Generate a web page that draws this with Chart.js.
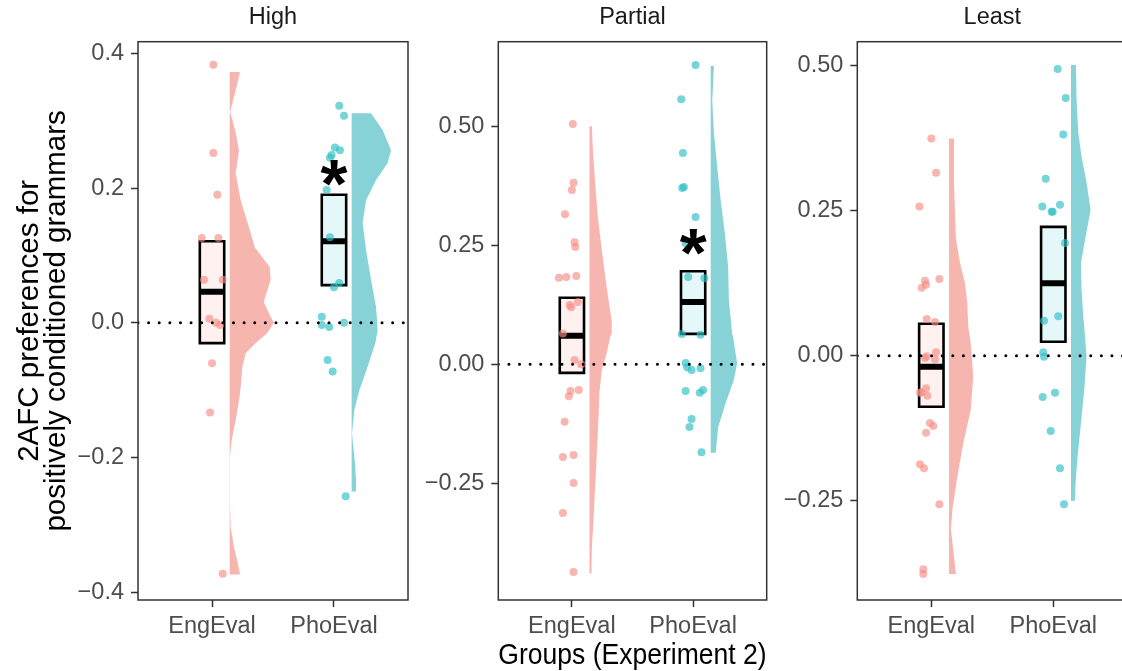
<!DOCTYPE html>
<html>
<head>
<meta charset="utf-8">
<script src="https://cdn.jsdelivr.net/npm/chart.js@4.4.1/dist/chart.umd.min.js"></script>
<style>
  html, body { margin: 0; padding: 0; background: #ffffff; overflow: hidden; }
  #wrap { position: relative; width: 1122px; height: 671px; overflow: hidden; background: #fff; }
  canvas { position: absolute; top: 0; }
</style>
</head>
<body>
<div id="wrap">
  <canvas id="c1" width="420" height="671" style="left:0px"></canvas>
  <canvas id="c2" width="360" height="671" style="left:420px"></canvas>
  <canvas id="c3" width="360" height="671" style="left:780px"></canvas>
</div>
<script>
// ---------------- DATA ----------------
const groups = ['EngEval', 'PhoEval'];
const panelTitles = ['High', 'Partial', 'Least'];
const xAxisTitle = 'Groups (Experiment 2)';
const yAxisTitle = ['2AFC preferences for', 'positively conditioned grammars'];

// y-axis ranges and ticks
const highYRange = [-0.411, 0.417];
const highYTicks = [-0.4, -0.2, 0, 0.2, 0.4];
const highYTickLabels = ['\u22120.4', '\u22120.2', '0.0', '0.2', '0.4'];
const partialYRange = [-0.496, 0.679];
const partialYTicks = [-0.25, 0, 0.25, 0.5];
const partialYTickLabels = ['\u22120.25', '0.00', '0.25', '0.50'];
const leastYRange = [-0.421, 0.541];
const leastYTicks = [-0.25, 0, 0.25, 0.5];
const leastYTickLabels = ['\u22120.25', '0.00', '0.25', '0.50'];

// High panel: individual participants (value, horizontal jitter)
const highEngVals = [0.383, 0.252, 0.19, 0.126, 0.126, 0.064, 0.064, 0.006, 0.0, -0.003, -0.06, -0.133, -0.372];
const highEngJitter = [0.011, 0.011, 0.043, -0.084, 0.052, -0.066, 0.088, -0.022, 0.033, 0.066, 0.0, -0.016, 0.088];
const highPhoVals = [0.322, 0.307, 0.26, 0.256, 0.249, 0.245, 0.197, 0.127, 0.059, 0.053, 0.009, -0.003, -0.006, 0.0, -0.055, -0.072, -0.257];
const highPhoJitter = [0.043, 0.082, 0.008, 0.049, -0.019, -0.033, -0.06, -0.033, 0.043, 0.0, -0.10, -0.10, -0.039, 0.082, -0.052, -0.011, 0.096];
// boxes: [lower hinge, median, upper hinge]
const highEngBox = [-0.03, 0.046, 0.121];
const highPhoBox = [0.056, 0.121, 0.19];
// half-violin density outline: [value, width]
const highEngViolin = [[0.372,0.084],[0.345,0.049],[0.313,0.004],[0.282,0.049],[0.256,0.076],[0.222,0.049],[0.182,0.09],[0.142,0.158],[0.112,0.205],[0.083,0.328],[0.064,0.336],[0.045,0.303],[0.031,0.279],[0.015,0.32],[0.0,0.361],[-0.015,0.309],[-0.03,0.213],[-0.045,0.131],[-0.065,0.104],[-0.095,0.09],[-0.115,0.076],[-0.144,0.049],[-0.174,0.016],[-0.199,0.002],[-0.263,0.002],[-0.303,0.008],[-0.333,0.035],[-0.357,0.068],[-0.373,0.084]];
const highPhoViolin = [[0.311,0.159],[0.286,0.254],[0.256,0.323],[0.237,0.295],[0.212,0.2],[0.182,0.118],[0.148,0.09],[0.108,0.118],[0.064,0.159],[0.024,0.2],[-0.011,0.213],[-0.03,0.194],[-0.065,0.131],[-0.1,0.063],[-0.129,0.022],[-0.164,0.003],[-0.204,0.025],[-0.233,0.036],[-0.25,0.036]];

// Partial panel
const partialEngVals = [0.506, 0.382, 0.367, 0.316, 0.257, 0.247, 0.182, 0.184, 0.186, 0.125, 0.12, 0.131, 0.065, 0.009, 0.0, -0.056, -0.067, -0.054, -0.121, -0.195, -0.191, -0.25, -0.313, -0.437];
const partialEngJitter = [0.008, 0.014, 0.0, -0.057, 0.022, 0.028, -0.107, -0.046, 0.036, -0.019, -0.005, 0.049, -0.074, 0.022, 0.077, -0.011, -0.025, 0.057, -0.06, -0.074, 0.014, 0.014, -0.074, 0.014];
const partialPhoVals = [0.63, 0.558, 0.445, 0.373, 0.371, 0.31, 0.255, 0.184, 0.181, 0.062, 0.064, 0.003, -0.006, -0.012, -0.008, -0.056, -0.06, -0.054, -0.115, -0.132, -0.185];
const partialPhoJitter = [0.02, -0.098, -0.084, -0.076, -0.09, 0.02, -0.062, -0.041, 0.093, 0.061, -0.093, -0.062, -0.049, -0.013, 0.061, -0.062, 0.055, 0.082, -0.013, -0.03, 0.069];
const partialEngBox = [-0.018, 0.06, 0.14];
const partialPhoBox = [0.064, 0.131, 0.196];
const partialEngViolin = [[0.501,0.02],[0.451,0.028],[0.382,0.047],[0.31,0.069],[0.24,0.102],[0.171,0.137],[0.114,0.17],[0.093,0.184],[0.066,0.184],[0.057,0.17],[0.024,0.143],[-0.012,0.102],[-0.06,0.082],[-0.117,0.074],[-0.186,0.061],[-0.258,0.047],[-0.328,0.033],[-0.384,0.02],[-0.44,0.016]];
const partialPhoViolin = [[0.628,0.027],[0.556,0.013],[0.486,0.027],[0.415,0.054],[0.346,0.082],[0.276,0.117],[0.205,0.144],[0.135,0.15],[0.065,0.177],[0.057,0.185],[0.003,0.218],[-0.033,0.191],[-0.082,0.123],[-0.132,0.062],[-0.186,0.041]];

// Least panel
const leastEngVals = [0.374, 0.315, 0.257, 0.129, 0.117, 0.122, 0.132, 0.063, 0.058, -0.001, 0.006, -0.004, -0.006, -0.056, -0.063, -0.069, -0.064, -0.116, -0.121, -0.133, -0.187, -0.194, -0.256, -0.368, -0.376];
const leastEngJitter = [0.0, 0.039, -0.098, -0.052, -0.079, -0.043, 0.066, -0.038, 0.03, -0.038, 0.039, -0.052, 0.03, -0.043, -0.079, -0.033, -0.093, -0.011, 0.016, -0.043, -0.093, -0.06, 0.066, -0.066, -0.066];
const leastPhoVals = [0.494, 0.444, 0.381, 0.305, 0.257, 0.248, 0.26, 0.248, 0.194, 0.068, 0.06, 0.006, -0.002, -0.071, -0.064, -0.13, -0.194, -0.256];
const leastPhoJitter = [0.036, 0.102, 0.082, -0.062, -0.09, -0.005, 0.055, -0.013, 0.096, 0.041, -0.076, -0.082, -0.076, -0.087, 0.014, -0.021, 0.055, 0.088];
const leastEngBox = [-0.088, -0.019, 0.055];
const leastPhoBox = [0.024, 0.125, 0.222];
const leastEngViolin = [[0.374,0.041],[0.297,0.041],[0.2,0.057],[0.16,0.09],[0.125,0.131],[0.091,0.15],[0.05,0.158],[0.022,0.178],[-0.036,0.199],[-0.094,0.178],[-0.151,0.117],[-0.209,0.068],[-0.266,0.027],[-0.3,0.016],[-0.335,0.035],[-0.376,0.057]];
const leastPhoViolin = [[0.501,0.041],[0.441,0.046],[0.384,0.06],[0.343,0.087],[0.298,0.128],[0.251,0.161],[0.205,0.12],[0.16,0.082],[0.113,0.087],[0.067,0.101],[0.05,0.109],[-0.002,0.128],[-0.059,0.109],[-0.116,0.082],[-0.175,0.054],[-0.219,0.038],[-0.25,0.033]];

// significance markers
const sigPanel = ['High', 'Partial'];
const sigGroup = ['PhoEval', 'PhoEval'];
const sigY = [0.223, 0.257];

// ---------------- STYLE ----------------
const FONT = '"Liberation Sans", Arial, Helvetica, sans-serif';
Chart.defaults.font.family = FONT;
Chart.defaults.color = '#4d4d4d';
const X_RANGE = [0.393, 2.607];
const BOX_HALF = 0.1;
const VIOLIN_NUDGE = 0.145;
const groupStyle = [
  { violin: '#F7B5AF', point: 'rgba(245,140,132,0.64)', box: 'rgba(248,118,109,0.1)' },
  { violin: '#86D2D7', point: 'rgba(45,192,198,0.66)', box: 'rgba(0,191,196,0.1)' }
];

const frame = {
  id: 'frame',
  afterDatasetsDraw(chart) {
    const { ctx, chartArea: a } = chart;
    ctx.save();
    ctx.strokeStyle = '#333333';
    ctx.lineWidth = 1.5;
    ctx.strokeRect(a.left, a.top, a.right - a.left, a.bottom - a.top);
    ctx.restore();
  }
};

const sigMarks = {
  id: 'sigMarks',
  afterDatasetsDraw(chart, args, opts) {
    const marks = opts.marks || [];
    if (!marks.length) return;
    const { ctx, scales: { x, y } } = chart;
    ctx.save();
    ctx.font = 'bold 100px ' + FONT;
    const m100 = ctx.measureText('*');
    const w100 = m100.actualBoundingBoxLeft + m100.actualBoundingBoxRight;
    const size = 100 * 27 / w100;
    ctx.font = 'bold ' + size + 'px ' + FONT;
    ctx.fillStyle = '#000';
    ctx.textAlign = 'center';
    ctx.textBaseline = 'alphabetic';
    marks.forEach(mk => {
      const px = x.getPixelForValue(mk.x);
      const py = y.getPixelForValue(mk.y);
      const mt = ctx.measureText('*');
      const off = (mt.actualBoundingBoxAscent - mt.actualBoundingBoxDescent) / 2;
      ctx.fillText('*', px, py + off);
    });
    ctx.restore();
  }
};

function violinPolygon(base, outline) {
  const pts = [{ x: base, y: outline[0][0] }];
  outline.forEach(([v, w]) => pts.push({ x: base + w, y: v }));
  pts.push({ x: base, y: outline[outline.length - 1][0] });
  pts.push({ x: base, y: outline[0][0] });
  return pts;
}

function makePanel(p) {
  const datasets = [];
  p.groups.forEach((g, gi) => {
    const cx = gi + 1;
    const st = groupStyle[gi];
    datasets.push({
      type: 'line', data: violinPolygon(cx + VIOLIN_NUDGE, g.violin),
      fill: 'shape', backgroundColor: st.violin, borderWidth: 0, borderColor: 'rgba(0,0,0,0)',
      pointRadius: 0, tension: 0, order: 5
    });
    const [q1, med, q3] = g.box;
    datasets.push({
      type: 'line',
      data: [{ x: cx - BOX_HALF, y: q1 }, { x: cx + BOX_HALF, y: q1 }, { x: cx + BOX_HALF, y: q3 }, { x: cx - BOX_HALF, y: q3 }, { x: cx - BOX_HALF, y: q1 }],
      fill: 'shape', backgroundColor: st.box, borderColor: '#000', borderWidth: 2.6,
      borderJoinStyle: 'miter', borderCapStyle: 'square', pointRadius: 0, tension: 0, order: 4
    });
    datasets.push({
      type: 'line', data: [{ x: cx - BOX_HALF, y: med }, { x: cx + BOX_HALF, y: med }],
      fill: false, borderColor: '#000', borderWidth: 6, borderCapStyle: 'butt', pointRadius: 0, order: 3
    });
    datasets.push({
      type: 'scatter', data: g.vals.map((v, i) => ({ x: cx + g.jit[i], y: v })),
      pointRadius: 4, pointBackgroundColor: st.point, pointBorderWidth: 0, order: 2
    });
  });
  datasets.push({
    type: 'line', data: [{ x: X_RANGE[0], y: 0 }, { x: X_RANGE[1], y: 0 }],
    fill: false, borderColor: '#000', borderWidth: 3, borderDash: [0.01, 10.6], borderCapStyle: 'round',
    pointRadius: 0, order: 1
  });

  const marks = [];
  sigPanel.forEach((pn, i) => {
    if (pn === p.title) marks.push({ x: groups.indexOf(sigGroup[i]) + 1, y: sigY[i] });
  });

  new Chart(document.getElementById(p.id), {
    type: 'scatter',
    data: { datasets },
    plugins: [frame, sigMarks],
    options: {
      responsive: false,
      animation: false,
      events: [],
      layout: { padding: { left: 0, right: p.padRight, top: 0, bottom: 0 } },
      plugins: {
        legend: { display: false },
        tooltip: { enabled: false },
        title: {
          display: true, text: p.title, color: '#1a1a1a', fullSize: false,
          font: { size: 23.5, weight: 'normal', lineHeight: 1.2 },
          padding: { top: 3.1, bottom: 10.4 }
        },
        sigMarks: { marks }
      },
      scales: {
        x: {
          type: 'linear', min: X_RANGE[0], max: X_RANGE[1],
          afterBuildTicks: s => { s.ticks = groups.map((g, i) => ({ value: i + 1 })); },
          afterFit: s => { s.height = 71; },
          ticks: {
            autoSkip: false, maxRotation: 0, padding: 5, color: '#4d4d4d',
            font: { size: 23.5 },
            callback: (v, i) => groups[i]
          },
          grid: { display: true, drawOnChartArea: false, drawTicks: true, tickLength: 7, tickWidth: 1.5, tickColor: '#333333', color: '#333333' },
          border: { display: false },
          title: {
            display: p.xTitle, text: xAxisTitle, color: '#000',
            font: { size: 29.5, lineHeight: 1.0 }, padding: { top: 0, bottom: 0 }
          }
        },
        y: {
          type: 'linear', min: p.yRange[0], max: p.yRange[1],
          afterBuildTicks: s => { s.ticks = p.yTicks.map(v => ({ value: v })); },
          afterFit: s => { s.width = p.yWidth; },
          ticks: {
            autoSkip: false, padding: 7, color: '#4d4d4d',
            font: { size: 23.5 },
            callback: (v, i) => p.yLabels[i]
          },
          grid: { display: true, drawOnChartArea: false, drawTicks: true, tickLength: 7, tickWidth: 1.5, tickColor: '#333333', color: '#333333' },
          border: { display: false },
          title: {
            display: p.yTitle, text: yAxisTitle, color: '#000',
            font: { size: 29.5, lineHeight: 0.93 }, padding: { top: 15.8, bottom: 0 }
          }
        }
      }
    }
  });
}

makePanel({
  id: 'c1', title: panelTitles[0], yRange: highYRange, yTicks: highYTicks, yLabels: highYTickLabels,
  yWidth: 138, padRight: 12, yTitle: true, xTitle: false,
  groups: [
    { vals: highEngVals, jit: highEngJitter, box: highEngBox, violin: highEngViolin },
    { vals: highPhoVals, jit: highPhoJitter, box: highPhoBox, violin: highPhoViolin }
  ]
});
makePanel({
  id: 'c2', title: panelTitles[1], yRange: partialYRange, yTicks: partialYTicks, yLabels: partialYTickLabels,
  yWidth: 78.3, padRight: 13.3, yTitle: false, xTitle: true,
  groups: [
    { vals: partialEngVals, jit: partialEngJitter, box: partialEngBox, violin: partialEngViolin },
    { vals: partialPhoVals, jit: partialPhoJitter, box: partialPhoBox, violin: partialPhoViolin }
  ]
});
makePanel({
  id: 'c3', title: panelTitles[2], yRange: leastYRange, yTicks: leastYTicks, yLabels: leastYTickLabels,
  yWidth: 77.3, padRight: 12.7, yTitle: false, xTitle: false,
  groups: [
    { vals: leastEngVals, jit: leastEngJitter, box: leastEngBox, violin: leastEngViolin },
    { vals: leastPhoVals, jit: leastPhoJitter, box: leastPhoBox, violin: leastPhoViolin }
  ]
});
</script>
</body>
</html>
